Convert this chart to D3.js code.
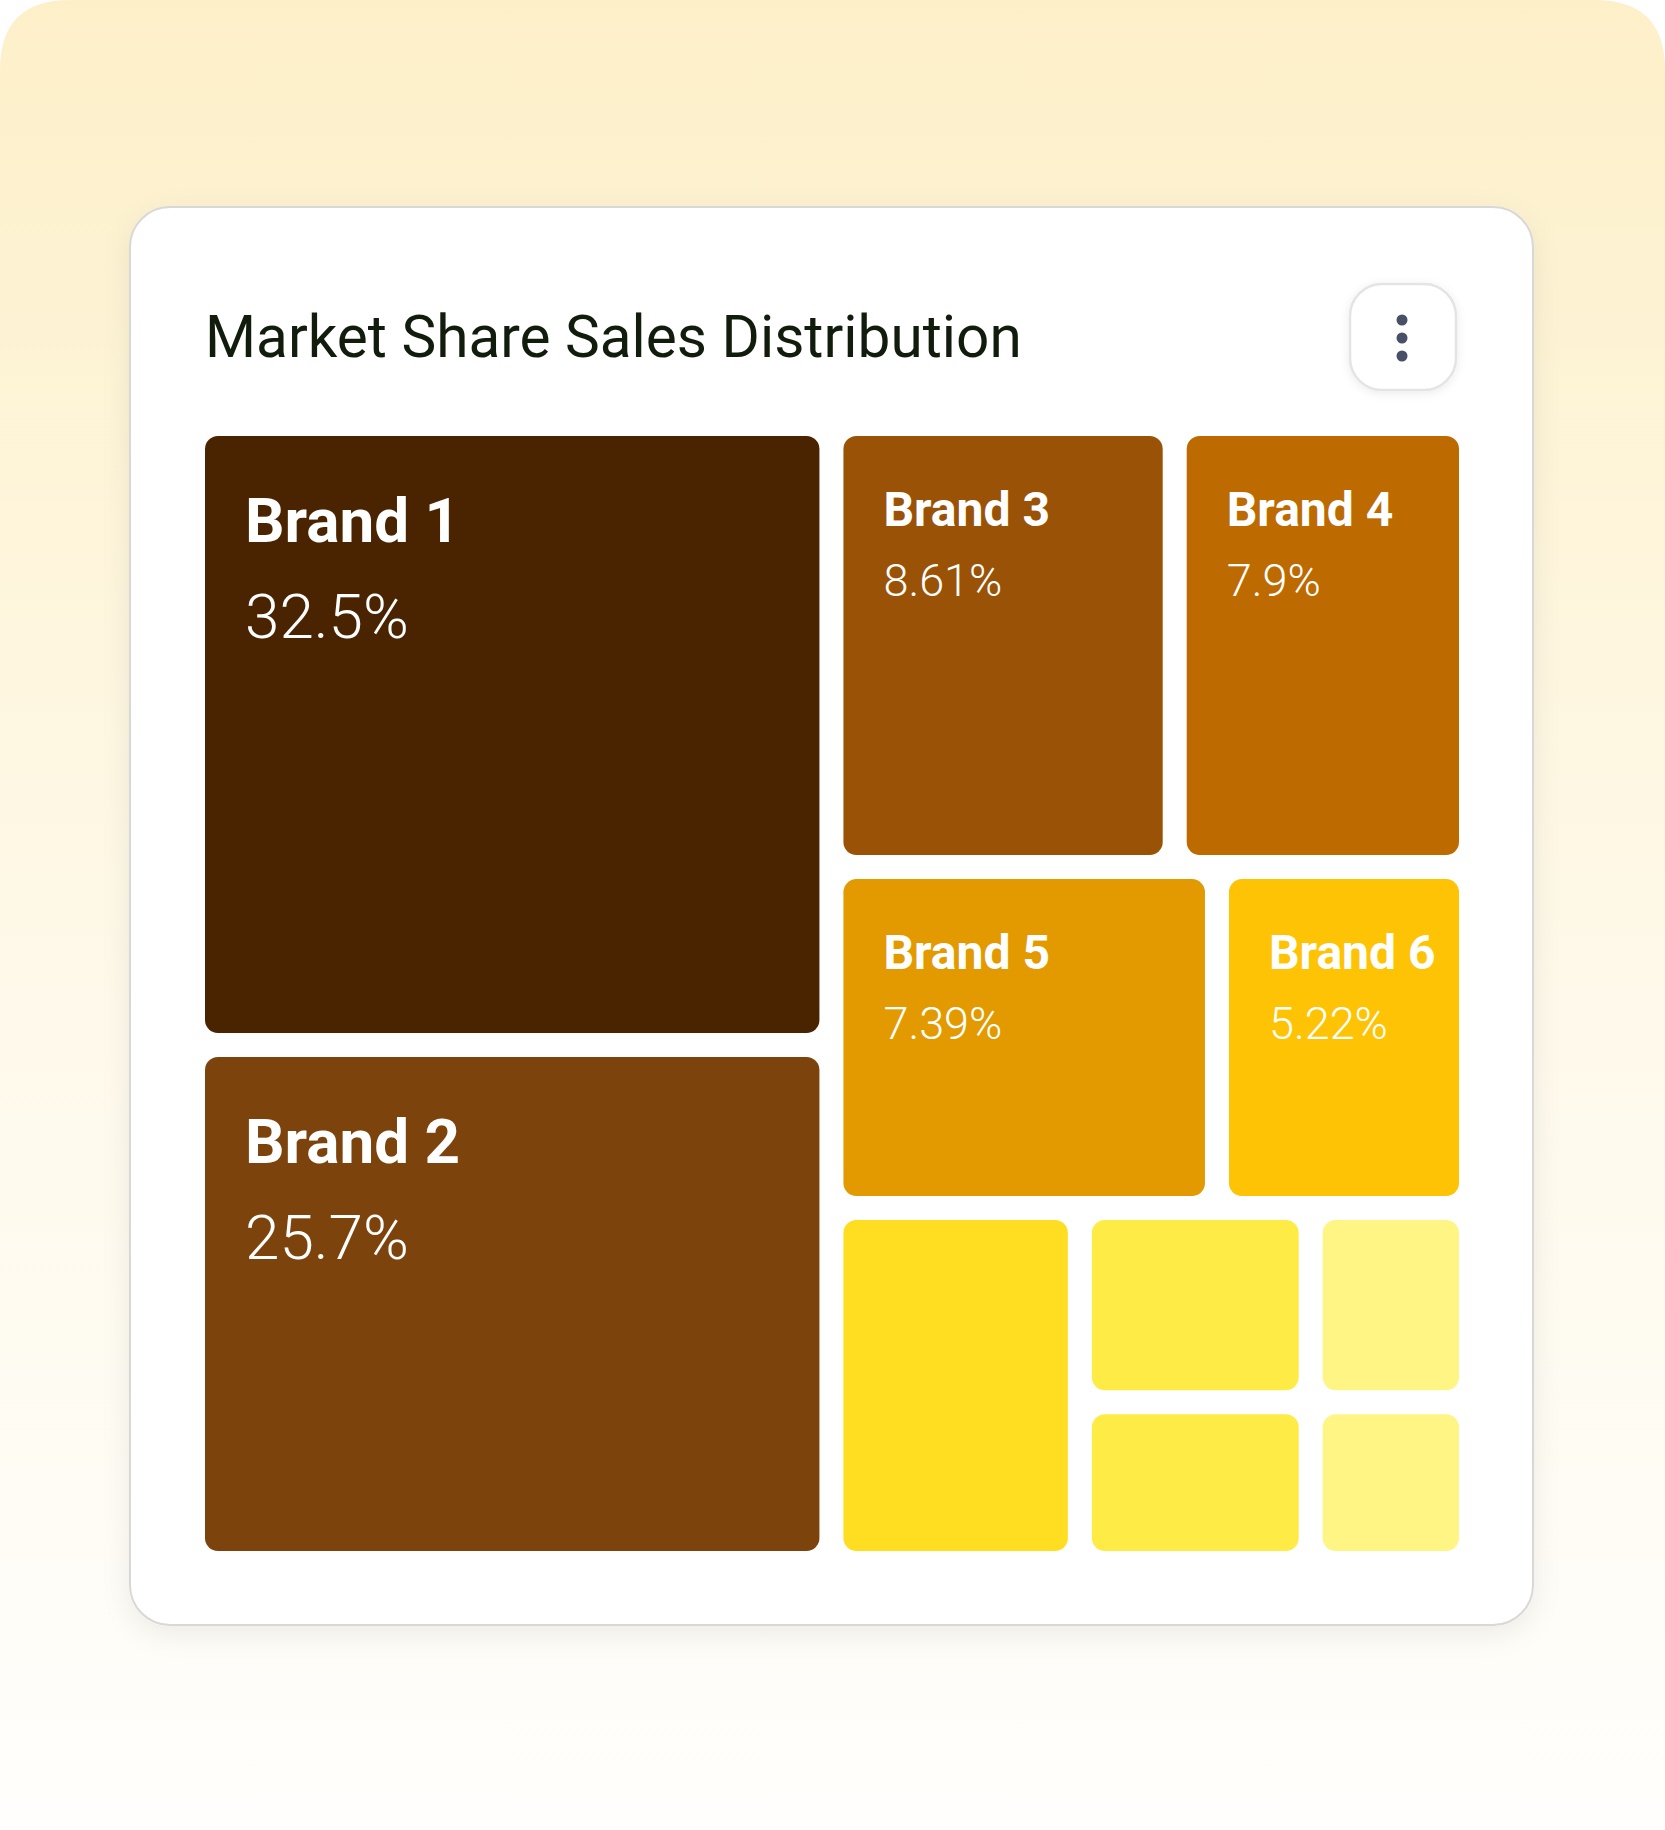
<!DOCTYPE html>
<html>
<head>
<meta charset="utf-8">
<script src="https://cdn.jsdelivr.net/npm/d3@7"></script>
<style>
  html, body { margin: 0; padding: 0; background: #ffffff; }
  svg { display: block; }
</style>
</head>
<body>
<div id="chart"></div>
<script>
// chart data
const title = 'Market Share Sales Distribution';
const brands = ['Brand 1', 'Brand 2', 'Brand 3', 'Brand 4', 'Brand 5', 'Brand 6',
  'Brand 7', 'Brand 8', 'Brand 9', 'Brand 10', 'Brand 11'];
// share shown on the labelled tiles
const shares = [32.5, 25.7, 8.61, 7.9, 7.39, 5.22];
const tileWeights = [27.24, 22.72, 10.45, 9.02, 9.03, 5.95, 6.06, 3.08, 2.55, 2.14, 1.77];
const tileColors = ['#4a2400', '#7d430c', '#9a5207', '#bd6a00', '#e29a00', '#fec304',
  '#ffdd20', '#ffeb46', '#ffeb46', '#fff585', '#fff585'];

const W = 1665, H = 1830;
const card = { x: 130, y: 207, w: 1403, h: 1418, r: 40 };
const area = { x: 205, y: 436, w: 1254, h: 1115 };
const gap = 24;

const svg = d3.select('#chart').append('svg')
  .attr('width', W)
  .attr('height', H)
  .style('font-family', 'Roboto, "Noto Sans", sans-serif');

const defs = svg.append('defs');
const bg = defs.append('linearGradient')
  .attr('id', 'bg').attr('x1', 0).attr('y1', 0).attr('x2', 0).attr('y2', 1);
bg.append('stop').attr('offset', '0%').attr('stop-color', '#fdf0c9');
bg.append('stop').attr('offset', '55%').attr('stop-color', '#fef9ea');
bg.append('stop').attr('offset', '100%').attr('stop-color', '#fffefc');

const shadow = defs.append('filter').attr('id', 'shadow')
  .attr('x', '-10%').attr('y', '-10%').attr('width', '120%').attr('height', '120%');
shadow.append('feDropShadow')
  .attr('dx', 0).attr('dy', 8).attr('stdDeviation', 14)
  .attr('flood-color', '#000').attr('flood-opacity', 0.07);

const btnShadow = defs.append('filter').attr('id', 'btnShadow')
  .attr('x', '-30%').attr('y', '-30%').attr('width', '160%').attr('height', '160%');
btnShadow.append('feDropShadow')
  .attr('dx', 0).attr('dy', 2).attr('stdDeviation', 5)
  .attr('flood-color', '#000').attr('flood-opacity', 0.08);

// page background with rounded top corners
const R = 70;
svg.append('path')
  .attr('d', `M0,${R} Q0,0 ${R},0 L${W - R},0 Q${W},0 ${W},${R} L${W},${H} L0,${H} Z`)
  .attr('fill', 'url(#bg)');

// card
svg.append('rect')
  .attr('x', card.x).attr('y', card.y)
  .attr('width', card.w).attr('height', card.h)
  .attr('rx', card.r)
  .attr('fill', '#ffffff')
  .attr('stroke', '#d8d8d6')
  .attr('stroke-width', 2)
  .attr('filter', 'url(#shadow)');

svg.append('text')
  .attr('x', 205).attr('y', 357)
  .attr('font-size', 58.5)
  .attr('fill', '#111c0c')
  .text(title);

// menu button
const btn = svg.append('g').attr('transform', 'translate(1349,283)');
btn.append('rect')
  .attr('x', 1).attr('y', 1).attr('width', 106).attr('height', 106)
  .attr('rx', 32)
  .attr('fill', '#ffffff')
  .attr('stroke', '#e4e4e4')
  .attr('stroke-width', 2.5)
  .attr('filter', 'url(#btnShadow)');
btn.selectAll('circle')
  .data([-18, 0, 18])
  .join('circle')
  .attr('cx', 53).attr('cy', d => 55 + d)
  .attr('r', 5.5)
  .attr('fill', '#475066');

// treemap
const data = {
  name: 'root',
  children: brands.map((b, i) => ({
    name: b,
    value: tileWeights[i],
    color: tileColors[i],
    share: shares[i]
  }))
};

const root = d3.hierarchy(data).sum(d => d.value || 0);
d3.treemap()
  .tile(d3.treemapSquarify.ratio(1))
  .size([area.w, area.h])
  .paddingInner(gap)(root);

const tiles = svg.append('g')
  .attr('transform', `translate(${area.x},${area.y})`)
  .selectAll('g')
  .data(root.leaves())
  .join('g')
  .attr('transform', d => `translate(${d.x0},${d.y0})`);

tiles.append('rect')
  .attr('width', d => d.x1 - d.x0)
  .attr('height', d => d.y1 - d.y0)
  .attr('rx', 13)
  .attr('fill', d => d.data.color);

const labelled = tiles.filter(d => d.data.share !== undefined);
const big = d => (d.x1 - d.x0) > 500;

labelled.append('text')
  .attr('x', 40)
  .attr('y', d => big(d) ? 106 : 90)
  .attr('font-size', d => big(d) ? 62 : 48)
  .attr('font-weight', 700)
  .attr('fill', '#ffffff')
  .text(d => d.data.name);

labelled.append('text')
  .attr('x', 40)
  .attr('y', d => big(d) ? 202 : 160)
  .attr('font-size', d => big(d) ? 62 : 45)
  .attr('font-weight', 300)
  .attr('fill', '#ffffff')
  .text(d => `${d.data.share}%`);
</script>
</body>
</html>
